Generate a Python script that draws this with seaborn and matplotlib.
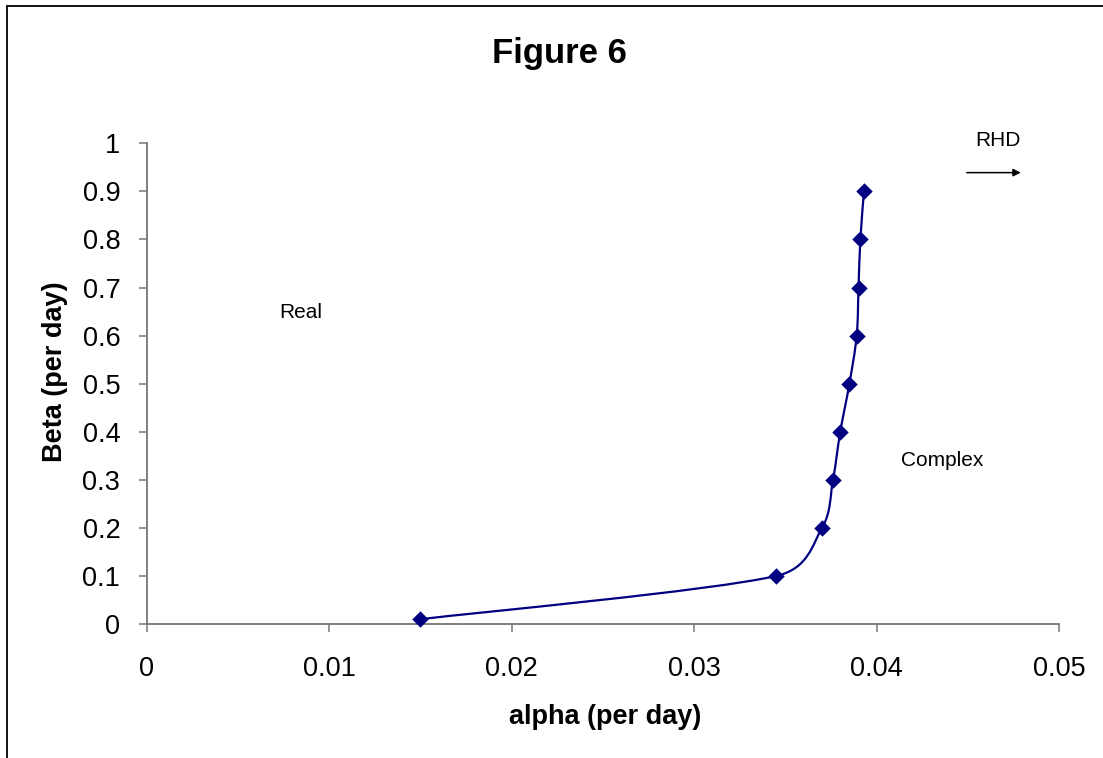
import numpy as np
import matplotlib
matplotlib.use("Agg")
import matplotlib.pyplot as plt
import seaborn as sns
from matplotlib.path import Path
from matplotlib.patches import PathPatch
from matplotlib.lines import Line2D

# data
alpha = [0.015, 0.0345, 0.037, 0.0376, 0.038, 0.0385, 0.0389, 0.039, 0.0391, 0.0393]
beta = [0.01, 0.1, 0.2, 0.3, 0.4, 0.5, 0.6, 0.7, 0.8, 0.9]
x_ticks = [0, 0.01, 0.02, 0.03, 0.04, 0.05]
y_ticks = [0, 0.1, 0.2, 0.3, 0.4, 0.5, 0.6, 0.7, 0.8, 0.9, 1]

NAVY = "#000080"
AXIS_GREY = "#767676"


def smooth_path(ax, xs, ys):
    """Excel style smoothed line: cubic beziers built in screen space"""
    pts = ax.transData.transform(np.column_stack([xs, ys]))
    n = len(pts)
    verts = [pts[0]]
    codes = [Path.MOVETO]
    for i in range(n - 1):
        p0 = pts[i - 1] if i > 0 else pts[i]
        p1 = pts[i]
        p2 = pts[i + 1]
        p3 = pts[i + 2] if i + 2 < n else pts[i + 1]
        d12 = np.hypot(*(p2 - p1))
        d02 = np.hypot(*(p2 - p0))
        d13 = np.hypot(*(p3 - p1))
        f0 = 1 / 6 if d02 / 6 < d12 / 2 else d12 / (2 * d02)
        f1 = 1 / 6 if d13 / 6 < d12 / 2 else d12 / (2 * d13)
        c1 = p1 + f0 * (p2 - p0)
        c2 = p2 - f1 * (p3 - p1)
        verts += [c1, c2, p2]
        codes += [Path.CURVE4] * 3
    verts = ax.transData.inverted().transform(np.array(verts))
    return Path(verts, codes)


def main():
    sns.set_style("white")
    plt.rcParams.update({
        'font.family': ['Liberation Sans', 'DejaVu Sans'],
        'text.color': 'black',
        'figure.facecolor': 'white',
    })

    W, H = 1103, 758
    fig = plt.figure(figsize=(W / 100, H / 100), dpi=100)
    ax = fig.add_axes([146.7 / W, 1 - 624 / H, (1059.3 - 146.7) / W, (624 - 143.3) / H])
    ax.set_xlim(0, 0.05)
    ax.set_ylim(0, 1)

    # smoothed curve then the diamond markers
    ax.add_patch(PathPatch(smooth_path(ax, alpha, beta), fill=False,
                           edgecolor=NAVY, lw=1.6, zorder=2))
    sns.scatterplot(x=alpha, y=beta, marker='D', s=70, color=NAVY,
                    edgecolor=NAVY, linewidth=0, ax=ax, zorder=3, clip_on=False)

    # axes styling
    for side in ['top', 'right']:
        ax.spines[side].set_visible(False)
    for side in ['left', 'bottom']:
        ax.spines[side].set_color(AXIS_GREY)
        ax.spines[side].set_linewidth(1.3)
    ax.set_xticks(x_ticks)
    ax.set_yticks(y_ticks)
    ax.set_xticklabels([f"{v:g}" for v in x_ticks])
    ax.set_yticklabels([f"{v:g}" for v in y_ticks])
    ax.tick_params(axis='both', direction='out', length=6, width=1.1,
                   color=AXIS_GREY, labelsize=19.5, labelcolor='black')
    ax.tick_params(axis='x', pad=17)
    ax.tick_params(axis='y', pad=13)
    ax.tick_params(left=True, bottom=True)
    ax.grid(False)

    # titles / labels placed where the reference has them
    fig.text(559 / W, 1 - 63.3 / H, "Figure 6", ha='center', va='baseline',
             fontsize=25, fontweight='bold')
    fig.text(605 / W, 1 - 724 / H, "alpha (per day)", ha='center', va='baseline',
             fontsize=19.5, fontweight='bold')
    fig.text(55.5 / W, 1 - 371.7 / H, "Beta (per day)", ha='center', va='center',
             rotation=90, fontsize=19.5, fontweight='bold')

    # region annotations
    ax.text(0.00725, 0.636, "Real", ha='left', va='baseline', fontsize=15)
    ax.text(0.04131, 0.329, "Complex", ha='left', va='baseline', fontsize=15)
    ax.text(0.04538, 0.995, "RHD", ha='left', va='baseline', fontsize=15, clip_on=False)
    ax.annotate("", xy=(0.04789, 0.939), xytext=(0.04493, 0.939),
                arrowprops=dict(arrowstyle='-|>', color='black', lw=1.1,
                                mutation_scale=11, shrinkA=0, shrinkB=0),
                annotation_clip=False)

    # chart area frame (runs off the right and bottom edges)
    fx, fy = 7 / W, 1 - 6.3 / H
    fig.add_artist(Line2D([fx, fx], [fy, -0.01], transform=fig.transFigure,
                          color='black', lw=1.3))
    fig.add_artist(Line2D([fx, 1.01], [fy, fy], transform=fig.transFigure,
                          color='black', lw=1.3))

    fig.savefig("out.png", dpi=100)
    plt.close(fig)


if __name__ == "__main__":
    main()
